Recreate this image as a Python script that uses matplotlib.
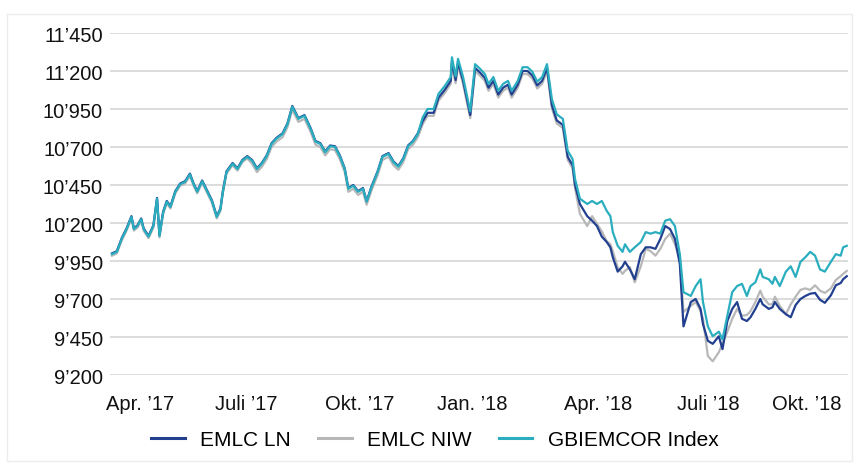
import matplotlib
matplotlib.use("Agg")
import matplotlib.pyplot as plt
import matplotlib.patches as mpatches
import pandas as pd
import numpy as np

plt.rcParams['font.family'] = ['Liberation Sans', 'DejaVu Sans']

# ---------------- data ----------------
start_date = "2017-03-10"
day_offsets = [0, 4, 8, 12, 16, 18, 21, 24, 26, 30, 34, 37, 39, 42, 45, 48, 52, 56, 60, 64,
               67, 70, 74, 78, 82, 86, 89, 91, 94, 99, 103, 107, 111,
               115, 119, 123, 127, 131, 135, 140, 144, 148, 153, 158, 163, 167, 171, 175, 179,
               183, 187, 191, 194, 198, 202, 206, 209, 213, 218, 222, 227, 231, 235, 239, 243,
               247, 251,
               255, 259, 264, 268, 273, 278, 279, 282, 284, 288, 294, 298, 302, 306, 309, 313,
               317, 321, 325, 328, 333, 337, 341, 345, 349, 353, 357,
               361, 365, 370, 374, 378, 380,
               384, 390, 394, 398, 402, 406, 409, 411, 415, 419, 421, 425, 429, 434, 438, 442,
               446, 450, 454, 458, 462, 466, 469, 475, 479, 483, 485, 489, 493, 498, 501, 505,
               509, 513, 517, 521, 524, 528, 532, 534, 539, 542, 544, 548, 553, 557, 561, 565,
               569, 573, 577, 581, 585, 590, 594, 598, 600, 603]

gbiemcor = [9995, 10010, 10095, 10160, 10240, 10160, 10180, 10225, 10160, 10110, 10180, 10360,
            10115, 10270, 10340, 10305, 10405, 10455, 10470, 10520, 10455, 10405, 10475, 10410,
            10345, 10240, 10290, 10405, 10535, 10590, 10555, 10610, 10635,
            10610, 10555, 10590, 10640, 10720, 10755, 10785, 10850, 10965, 10885, 10905, 10820,
            10735, 10720, 10665, 10705, 10700, 10640, 10555, 10425, 10445, 10405, 10425, 10340,
            10435, 10535, 10635, 10655, 10600, 10570, 10620, 10705, 10735, 10785,
            10895, 10950, 10950, 11050, 11100, 11160, 11290, 11165, 11280, 11165, 10935, 11245,
            11215, 11180, 11115, 11160, 11070, 11115, 11135, 11070, 11135, 11225, 11225, 11195,
            11130, 11160, 11245,
            11015, 10915, 10885, 10675, 10620, 10490,
            10360, 10325, 10345, 10325, 10345, 10280, 10245, 10140, 10050, 10010, 10060, 10010,
            10040, 10075, 10140, 10130, 10140, 10130, 10215, 10225, 10180, 9995, 9745, 9720,
            9785, 9830, 9680, 9520, 9455, 9485, 9435, 9590, 9745, 9785, 9800, 9720, 9785, 9810,
            9895, 9845, 9830, 9800, 9845, 9785, 9880, 9915, 9845, 9945, 9975, 10010, 9985, 9895,
            9880, 9945, 9995, 9985, 10040, 10050]

emlc_ln = [10000, 10015, 10100, 10165, 10245, 10165, 10185, 10230, 10165, 10115, 10185, 10365,
           10120, 10275, 10345, 10310, 10410, 10460, 10475, 10525, 10460, 10410, 10480, 10415,
           10350, 10245, 10295, 10410, 10540, 10595, 10560, 10615, 10640,
           10615, 10560, 10595, 10645, 10725, 10760, 10790, 10855, 10970, 10890, 10910, 10825,
           10740, 10725, 10670, 10710, 10705, 10645, 10560, 10430, 10450, 10410, 10430, 10345,
           10440, 10540, 10640, 10660, 10605, 10575, 10625, 10710, 10740, 10790,
           10870, 10925, 10925, 11025, 11075, 11135, 11265, 11140, 11255, 11140, 10910, 11220,
           11190, 11155, 11090, 11135, 11045, 11090, 11110, 11045, 11110, 11200, 11200, 11170,
           11105, 11135, 11220,
           10975, 10875, 10845, 10635, 10580, 10450,
           10325, 10245, 10215, 10180, 10110, 10075, 10040, 9975, 9880, 9915, 9945, 9895,
           9830, 9995, 10040, 10040, 10030, 10095, 10180, 10160, 10095, 9930, 9520, 9680,
           9700, 9635, 9535, 9425, 9405, 9455, 9370, 9555, 9635, 9680, 9570, 9555, 9580, 9635,
           9700, 9665, 9635, 9645, 9680, 9635, 9600, 9580, 9660, 9700, 9720, 9735, 9740, 9695,
           9675, 9725, 9790, 9805, 9830, 9850]

emlc_niw = [9985, 10000, 10085, 10150, 10230, 10150, 10170, 10215, 10150, 10100, 10170, 10350,
            10105, 10260, 10330, 10295, 10395, 10445, 10460, 10510, 10445, 10395, 10465, 10400,
            10335, 10230, 10280, 10395, 10525, 10580, 10545, 10600, 10625,
            10590, 10535, 10570, 10620, 10700, 10735, 10765, 10830, 10945, 10865, 10885, 10800,
            10715, 10700, 10645, 10685, 10680, 10620, 10535, 10405, 10425, 10385, 10405, 10320,
            10415, 10515, 10615, 10635, 10580, 10550, 10600, 10685, 10715, 10765,
            10850, 10905, 10905, 11005, 11055, 11115, 11245, 11120, 11235, 11120, 10890, 11200,
            11170, 11135, 11070, 11115, 11025, 11070, 11090, 11025, 11090, 11180, 11180, 11150,
            11085, 11115, 11200,
            10955, 10855, 10825, 10615, 10560, 10430,
            10260, 10180, 10245, 10195, 10145, 10080, 10060, 10015, 9910, 9865, 9885, 9910,
            9810, 9915, 10030, 10015, 9985, 10030, 10095, 10130, 10060, 9965, 9615, 9655,
            9680, 9620, 9570, 9325, 9290, 9350, 9405, 9485, 9570, 9635, 9590, 9595, 9620, 9680,
            9755, 9715, 9665, 9665, 9715, 9655, 9600, 9665, 9715, 9760, 9770, 9760, 9790, 9755,
            9740, 9770, 9825, 9850, 9865, 9885]

y_ticks = [9200, 9450, 9700, 9950, 10200, 10450, 10700, 10950, 11200, 11450]
x_tick_dates = ["2017-04-02", "2017-06-28", "2017-09-29", "2017-12-31",
                "2018-04-13", "2018-07-12", "2018-10-01"]
x_tick_labels = ["Apr. \u201917", "Juli \u201917", "Okt. \u201917", "Jan. \u201918",
                 "Apr. \u201918", "Juli \u201918", "Okt. \u201918"]
series_names = ["EMLC LN", "EMLC NIW", "GBIEMCOR Index"]

# ---------------- plot ----------------
W, H = 856, 464
fig = plt.figure(figsize=(W / 100, H / 100), dpi=100)
fig.patch.set_facecolor("white")

# faint outer frame
fig.patches.append(mpatches.Rectangle((7 / W, 1 - 462 / H), (852 - 7) / W, (462 - 15) / H,
                                      transform=fig.transFigure, fill=False,
                                      edgecolor="#ececec", linewidth=1.0))

ax = fig.add_axes([110 / W, 1 - 376 / H, (848 - 110) / W, (376 - 34) / H])

dates = pd.Timestamp(start_date) + pd.to_timedelta(day_offsets, unit="D")

c_ln = "#22408f"
c_niw = "#b8b8b8"
c_gb = "#2aaebf"

l_niw, = ax.plot(dates, emlc_niw, color=c_niw, lw=1.6, zorder=3)
l_ln, = ax.plot(dates, emlc_ln, color=c_ln, lw=1.6, zorder=4)
l_gb, = ax.plot(dates, gbiemcor, color=c_gb, lw=1.6, zorder=5)

ax.set_ylim(9200, 11450)
ax.set_xlim(pd.Timestamp(start_date) - pd.Timedelta(days=1.6),
            pd.Timestamp(start_date) + pd.Timedelta(days=604))

ax.set_yticks(y_ticks)
ax.set_yticklabels([f"{v:,}".replace(",", "\u2019") for v in y_ticks])
ax.set_xticks(pd.to_datetime(x_tick_dates))
ax.set_xticklabels(x_tick_labels)

ax.grid(axis="y", color="#dcdcdc", linewidth=1.4, zorder=0)
ax.grid(axis="x", visible=False)
ax.set_axisbelow(True)
for s in ax.spines.values():
    s.set_visible(False)
ax.tick_params(axis="both", length=0, labelsize=14.5, colors="#111111")
ax.tick_params(axis="x", pad=14)
ax.tick_params(axis="y", pad=5)

fig.legend([l_ln, l_niw, l_gb], series_names, loc="center",
           bbox_to_anchor=(435 / W, 1 - 441 / H), ncol=3, frameon=False,
           fontsize=15, handlelength=1.6, handletextpad=0.75, columnspacing=1.3)
for h in fig.legends[0].get_lines():
    h.set_linewidth(2.2)

fig.savefig("out.png", dpi=100)
